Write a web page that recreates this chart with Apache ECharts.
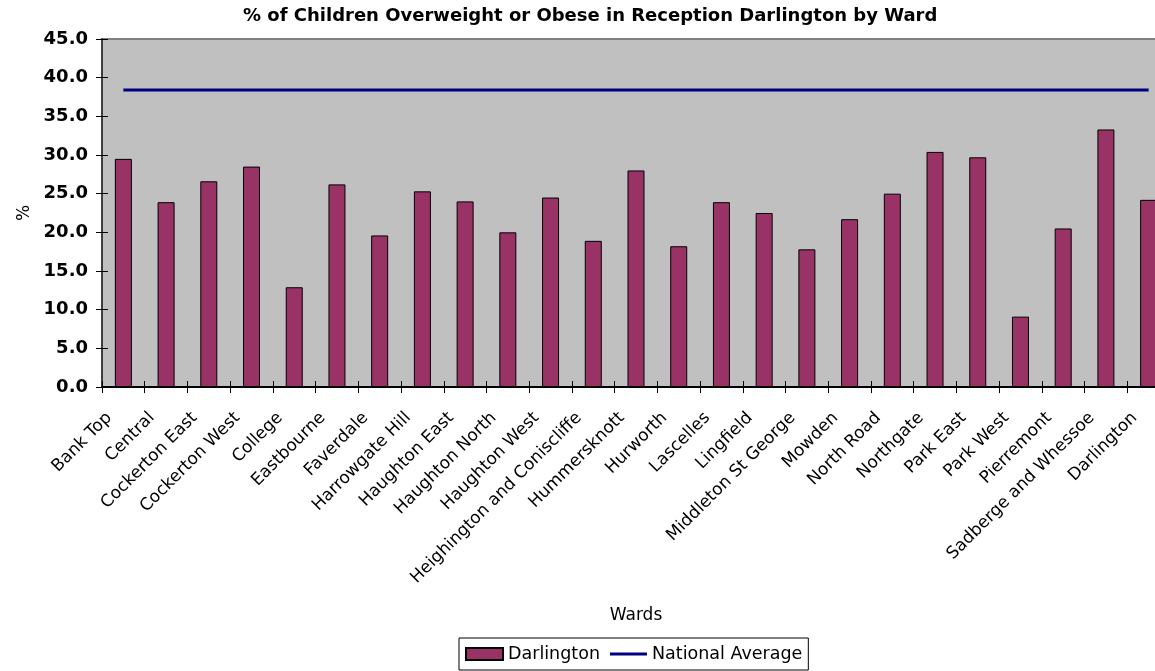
<!DOCTYPE html>
<html>
<head>
<meta charset="utf-8">
<script src="https://cdn.jsdelivr.net/npm/echarts@6/dist/echarts.min.js"></script>
<style>
  html, body { margin: 0; padding: 0; background: #fff; }
  #chart { width: 1155px; height: 671px; }
</style>
</head>
<body>
<div id="chart"></div>
<script>
// 各选区
const wards = [
  'Bank Top', 'Central', 'Cockerton East', 'Cockerton West', 'College',
  'Eastbourne', 'Faverdale', 'Harrowgate Hill', 'Haughton East', 'Haughton North',
  'Haughton West', 'Heighington and Coniscliffe', 'Hummersknott', 'Hurworth', 'Lascelles',
  'Lingfield', 'Middleton St George', 'Mowden', 'North Road', 'Northgate',
  'Park East', 'Park West', 'Pierremont', 'Sadberge and Whessoe', 'Darlington'
]
// Darlington 各选区百分比
const darlington = [
  29.5, 23.9, 26.6, 28.5, 12.9,
  26.2, 19.6, 25.3, 24.0, 20.0,
  24.5, 18.9, 28.0, 18.2, 23.9,
  22.5, 17.8, 21.7, 25.0, 30.4,
  29.7, 9.1, 20.5, 33.3, 24.2
]
// 全国平均
const nationalAverage = [
  38.4, 38.4, 38.4, 38.4, 38.4,
  38.4, 38.4, 38.4, 38.4, 38.4,
  38.4, 38.4, 38.4, 38.4, 38.4,
  38.4, 38.4, 38.4, 38.4, 38.4,
  38.4, 38.4, 38.4, 38.4, 38.4
]
const yTicks = { min: 0, max: 45, interval: 5 }

const font = 'DejaVu Sans, Verdana, sans-serif'
const myChart = echarts.init(document.getElementById('chart'), null, { renderer: 'canvas' })

// 刻度线穿过坐标轴：外侧一套，内侧一套（辅助轴）
const tickStyle = { color: '#000', width: 1 }

const options = {
  animation: false,
  textStyle: { fontFamily: font },
  title: {
    text: '% of Children Overweight or Obese in Reception Darlington by Ward',
    left: 243,
    top: 7,
    padding: 0,
    textStyle: { fontFamily: font, fontSize: 18, fontWeight: 'bold', color: '#000' }
  },
  legend: {
    left: 459,
    top: 638,
    padding: [7, 6, 7, 6],
    itemGap: 10,
    itemWidth: 37,
    itemHeight: 12,
    borderColor: '#000',
    borderWidth: 1,
    selectedMode: false,
    textStyle: { fontFamily: font, fontSize: 17.5, color: '#000' },
    data: [
      { name: 'Darlington', icon: 'rect' },
      { name: 'National Average', icon: 'path://M0,0H37V3H0Z' }
    ]
  },
  grid: {
    left: 102,
    top: 39,
    width: 1068,
    height: 348,
    outerBoundsMode: 'none',
    containLabel: false,
    show: true,
    backgroundColor: '#c0c0c0',
    borderColor: '#808080',
    borderWidth: 2
  },
  xAxis: [
    {
      type: 'category',
      data: wards,
      name: 'Wards',
      nameLocation: 'middle',
      nameGap: 220,
      nameTextStyle: { fontFamily: font, fontSize: 17, color: '#000' },
      axisLine: { lineStyle: { color: '#000', width: 2 } },
      axisTick: { show: true, interval: 0, length: 6, lineStyle: tickStyle },
      axisLabel: {
        rotate: 45,
        interval: 0,
        margin: 14,
        padding: [0, 20, 0, 0],
        fontFamily: font,
        fontSize: 17,
        color: '#000'
      }
    },
    {
      type: 'category',
      data: wards,
      position: 'bottom',
      axisLine: { show: false },
      axisTick: { show: true, interval: 0, inside: true, length: 6, lineStyle: tickStyle },
      axisLabel: { show: false }
    }
  ],
  yAxis: [
    {
      type: 'value',
      min: yTicks.min,
      max: yTicks.max,
      interval: yTicks.interval,
      name: '%',
      nameLocation: 'middle',
      nameGap: 67,
      nameRotate: 90,
      nameTextStyle: { fontFamily: font, fontSize: 17, color: '#000' },
      axisLine: { show: true, lineStyle: { color: '#404040', width: 2 } },
      axisTick: { show: true, length: 6, lineStyle: tickStyle },
      splitLine: { show: false },
      axisLabel: {
        margin: 14,
        fontFamily: font,
        fontSize: 18,
        fontWeight: 'bold',
        color: '#000',
        formatter: (v) => v.toFixed(1)
      }
    },
    {
      type: 'value',
      min: yTicks.min,
      max: yTicks.max,
      interval: yTicks.interval,
      position: 'left',
      axisLine: { show: false },
      axisTick: { show: true, inside: true, length: 6, lineStyle: tickStyle },
      splitLine: { show: false },
      axisLabel: { show: false }
    }
  ],
  series: [
    {
      name: 'Darlington',
      type: 'bar',
      data: darlington,
      barWidth: 17,
      itemStyle: { color: '#993366', borderColor: '#000', borderWidth: 1 },
      emphasis: { disabled: true }
    },
    {
      name: 'National Average',
      type: 'line',
      data: nationalAverage,
      symbol: 'none',
      z: 5,
      lineStyle: { color: '#000080', width: 3 },
      itemStyle: { color: '#000080' },
      emphasis: { disabled: true }
    }
  ]
}

myChart.setOption(options)
</script>
</body>
</html>
